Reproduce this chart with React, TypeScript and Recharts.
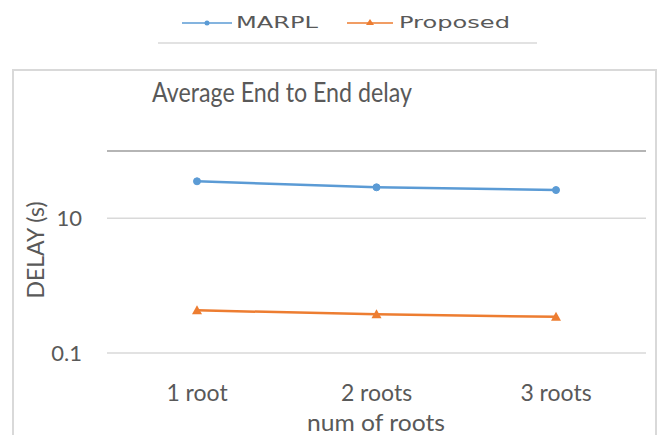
import React from 'react';
import {
  LineChart, Line, XAxis, YAxis, CartesianGrid, ReferenceLine, Legend,
} from 'recharts';

// values (log y axis)
const categories = ['1 root', '2 roots', '3 roots'];
const marplDelay = [35.5, 28.9, 26.3];
const proposedDelay = [0.43, 0.375, 0.345];
const yTicks = [0.1, 10];
const yMax = 100;

const data = categories.map((name, i) => ({
  name,
  MARPL: marplDelay[i],
  Proposed: proposedDelay[i],
}));

const BLUE = '#5b9bd5';
const ORANGE = '#ed7d31';
const TEXT = '#595959';
const FONT = 'Lato, "Open Sans", sans-serif';

function Triangle(props: any) {
  const { cx, cy } = props;
  if (cx == null || cy == null) return null;
  return <polygon points={`${cx},${cy - 5} ${cx - 5},${cy + 4} ${cx + 5},${cy + 4}`} fill={ORANGE} />;
}

function LegendBox() {
  return (
    <svg width={657} height={50} style={{ display: 'block' }}>
      <line x1={182} y1={23} x2={232} y2={23} stroke={BLUE} strokeWidth={1.5} />
      <circle cx={207} cy={23} r={2.5} fill={BLUE} />
      <text x={236} y={28} fontFamily='"DejaVu Sans", sans-serif' fontSize={15} fill={TEXT}
        textLength={82} lengthAdjust="spacingAndGlyphs">MARPL</text>
      <line x1={347} y1={23} x2={393} y2={23} stroke={ORANGE} strokeWidth={1.5} />
      <polygon points="370,19 366,25 374,25" fill={ORANGE} />
      <text x={399} y={28} fontFamily='"DejaVu Sans", sans-serif' fontSize={15} fill={TEXT}
        textLength={111} lengthAdjust="spacingAndGlyphs">Proposed</text>
      <line x1={158} y1={43} x2={537} y2={43} stroke="#d9d9d9" strokeWidth={1.5} />
    </svg>
  );
}

export default function App() {
  return (
    <div style={{ position: 'absolute', left: 0, top: 0, width: 657, height: 435, background: '#fff', overflow: 'hidden' }}>
      <div style={{
        position: 'absolute', left: 12, top: 69, width: 641, height: 400,
        border: '2px solid #d9d9d9',
      }} />
      <svg width={657} height={120} style={{ position: 'absolute', left: 0, top: 0 }}>
        <text x={152} y={102} fontFamily={FONT} fontSize={26} fill={TEXT}
          textLength={260} lengthAdjust="spacingAndGlyphs">Average End to End delay</text>
      </svg>
      <LineChart
        width={657}
        height={435}
        data={data}
        margin={{ top: 101, right: 11, bottom: 22, left: 0 }}
        style={{ position: 'absolute', left: 0, top: 0 }}
      >
        <Legend
          verticalAlign="top"
          content={() => <LegendBox />}
          wrapperStyle={{ position: 'absolute', left: 0, top: 0, width: 657, height: 50 }}
        />
        <CartesianGrid vertical={false} stroke="#d9d9d9" strokeWidth={1.5} />
        <ReferenceLine y={yMax} stroke="#a6a6a6" strokeWidth={1.5} />
        <XAxis
          dataKey="name"
          height={60}
          padding={{ left: 90, right: 90 }}
          axisLine={false}
          tickLine={false}
          tickSize={0}
          tickMargin={32}
          tick={{ fill: TEXT, fontSize: 23, fontFamily: FONT }}
          label={({ viewBox }: any) => (
            <text x={307} y={431} fill={TEXT} fontSize={24} fontFamily={FONT}
              textLength={138} lengthAdjust="spacingAndGlyphs">num of roots</text>
          )}
        />
        <YAxis
          scale="log"
          domain={[0.1, yMax]}
          ticks={yTicks}
          allowDataOverflow
          width={107}
          axisLine={false}
          tickLine={false}
          tickSize={0}
          tickMargin={25}
          tick={{ fill: TEXT, fontSize: 22, fontFamily: FONT }}
          label={({ viewBox }: any) => {
            const cy = viewBox.y + viewBox.height / 2 - 2;
            return (
              <text x={35} y={cy} transform={`rotate(-90, 35, ${cy})`} textAnchor="middle"
                dominantBaseline="central" fill={TEXT} fontSize={23} fontFamily={FONT}>DELAY (s)</text>
            );
          }}
        />
        <Line dataKey="MARPL" stroke={BLUE} strokeWidth={2.5} isAnimationActive={false}
          dot={{ r: 3.5, fill: BLUE, stroke: BLUE, strokeWidth: 1 }} />
        <Line dataKey="Proposed" stroke={ORANGE} strokeWidth={2.5} isAnimationActive={false}
          dot={<Triangle />} />
      </LineChart>
    </div>
  );
}
